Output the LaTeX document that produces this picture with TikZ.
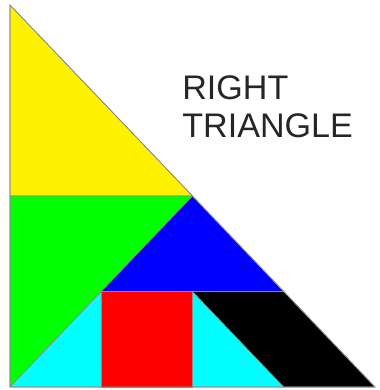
\documentclass[tikz,border=0pt]{standalone}
\usepackage{fontspec}
\setmainfont{Liberation Sans}
\usepackage{xcolor}
\definecolor{aqua}{RGB}{0,255,255}
\definecolor{lime}{RGB}{0,255,0}

\begin{document}
\begin{tikzpicture}[
    x=1.825cm, y=1.91cm,
    piece/.style={draw=black!45, line width=0.4pt, line join=round},
    title/.style={
        align=left, inner sep=0pt, text=black!85,
        font=\fontsize{19.4}{21.6}\selectfont
    }
]
\useasboundingbox (-0.2cm,-0.06cm) rectangle (7.4cm,7.74cm);

% grid corners of the pieces
\coordinate (top)   at (0,4);
\coordinate (midL)  at (0,2);
\coordinate (midC)  at (2,2);
\coordinate (origin) at (0,0);
\coordinate (lowA)  at (1,1);
\coordinate (lowB)  at (2,1);
\coordinate (lowC)  at (3,1);
\coordinate (baseA) at (1,0);
\coordinate (baseB) at (2,0);
\coordinate (baseC) at (3,0);
\coordinate (right) at (4,0);

% Pieces
\fill[piece, fill=yellow] (top) -- (midL) -- (midC) -- cycle;
\fill[piece, fill=lime]   (midL) -- (midC) -- (origin) -- cycle;
\fill[piece, fill=blue]   (midC) -- (lowA) -- (lowC) -- cycle;
\fill[piece, fill=aqua]   (origin) -- (lowA) -- (baseA) -- cycle;
\fill[piece, fill=red]    (lowA) rectangle (baseB);
\fill[piece, fill=aqua]   (lowB) -- (baseB) -- (baseC) -- cycle;
\fill[piece, fill=black]  (lowB) -- (lowC) -- (right) -- (baseC) -- cycle;
\draw[piece] (top) -- (origin) -- (right) -- cycle;

% Label
\node[title, anchor=north west] (label) at (3.44cm,6.24cm) {RIGHT\\TRIANGLE};

\end{tikzpicture}
\end{document}
